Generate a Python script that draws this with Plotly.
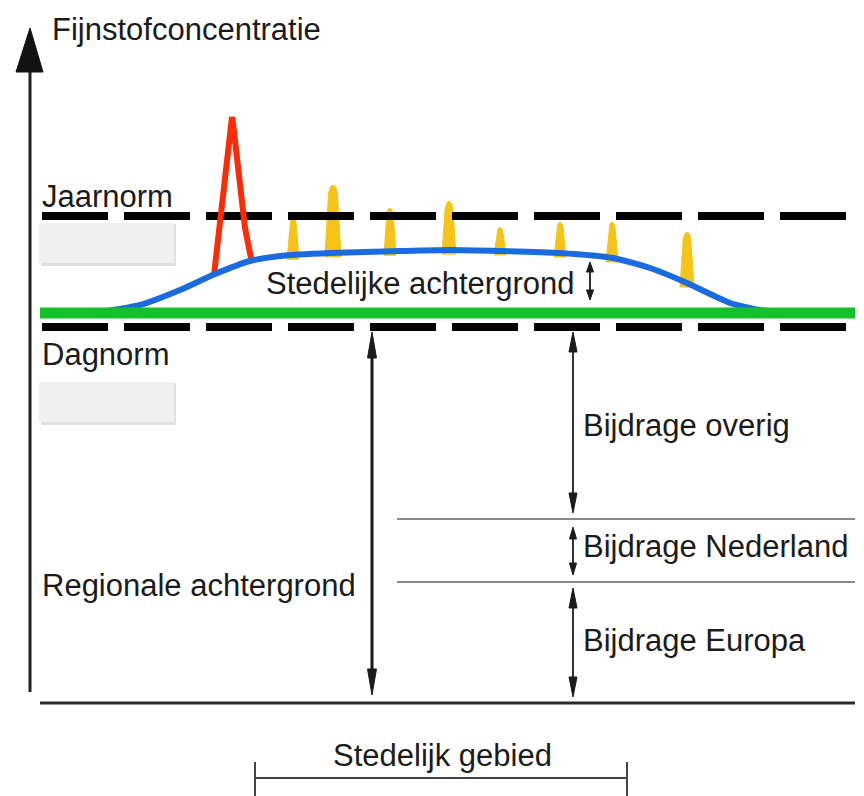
import numpy as np
import plotly.graph_objects as go

# ---------------- schematic values (concentration units, 0 = ground level) ----------------
ground_level = 0
regional_level = 390        # regionale achtergrond (green)
jaarnorm_level = 487        # dashed line "Jaarnorm"
dagnorm_level = 376         # dashed line "Dagnorm"
ground_span = [40, 855]
norm_span = [42, 852]

# urban background (blue)
urban_x = [95, 140, 180, 215, 250, 280, 330, 400, 450, 500, 560, 613, 650, 687, 710, 730, 760, 790]
urban_c = [390, 398, 413, 429, 442, 447, 450, 452, 453, 452, 450, 445, 435, 420, 409, 400, 393, 390]

# red peak (exceeding day norm)
red_x = [214, 219, 224, 228, 231, 232, 233, 236, 240, 245, 251]
red_c = [428, 470, 515, 555, 580, 586, 580, 550, 510, 475, 445]

# yellow local peaks
peak_x = [293, 333, 390, 449, 500, 560, 612, 687]
peak_top = [486, 518, 495, 502, 476, 481, 481, 471]
peak_halfwidth = [6, 8, 6, 7, 6, 6, 6, 7]

# contribution boundaries
contrib_levels = [184, 121]
contrib_span = [397, 855]

# arrows: x, from, to
arrow_x = [372, 573, 573, 573, 590]
arrow_from = [371, 371, 176, 115, 441]
arrow_to = [8, 190, 128, 6, 403]
arrow_head_len = [26, 20, 12, 20, 10]
arrow_head_half = [4.5, 4, 3.5, 4, 3.5]
arrow_width = [3, 1.8, 1.8, 1.8, 1.8]

# labels
label_text = ["Fijnstofconcentratie", "Jaarnorm", "Dagnorm", "Stedelijke achtergrond",
              "Regionale achtergrond", "Bijdrage overig", "Bijdrage Nederland",
              "Bijdrage Europa", "Stedelijk gebied"]
label_x = [50, 40, 40, 264, 40, 581, 581, 581, 442]
label_c = [674, 507, 349, 420, 118, 278, 157, 63, -52]
label_anchor = ["left", "left", "left", "left", "left", "left", "left", "left", "center"]

# redaction boxes (x0, x1, c_top, c_bottom)
box_x0 = [39, 39]
box_x1 = [174, 174]
box_top = [480, 321]
box_bottom = [440, 281]

# urban area bracket
bracket_span = [255, 627]
bracket_level = -75
bracket_tick = [-59, -93]

# axis
axis_x = 30
axis_bottom = 11
axis_tip = 675

FONT = "Liberation Sans, Arial, sans-serif"
INK = "#1b1b1b"

fig = go.Figure()

# yellow peaks
urban_interp = lambda xx: float(np.interp(xx, urban_x, urban_c))
for px, top, hw in zip(peak_x, peak_top, peak_halfwidth):
    base = urban_interp(px) - 4
    xs = [px - hw, px - hw * 0.55, px - hw * 0.35, px, px + hw * 0.35, px + hw * 0.55, px + hw, px - hw]
    ys = [base, top - 8, top - 2, top, top - 2, top - 8, base, base]
    fig.add_trace(go.Scatter(x=xs, y=ys, mode="lines", fill="toself", fillcolor="#F6C416",
                             line=dict(color="#F6C416", width=1), hoverinfo="skip", showlegend=False))

# dashed norm lines
for lvl in [jaarnorm_level, dagnorm_level]:
    fig.add_trace(go.Scatter(x=norm_span, y=[lvl, lvl], mode="lines",
                             line=dict(color="#000000", width=8, dash="66px,16px"),
                             hoverinfo="skip", showlegend=False))

# red peak
fig.add_trace(go.Scatter(x=red_x, y=red_c, mode="lines", line=dict(color="#FF2A06", width=6),
                         hoverinfo="skip", showlegend=False))
# blue urban background
fig.add_trace(go.Scatter(x=urban_x, y=urban_c, mode="lines", line=dict(color="#1A6BE0", width=6, shape="spline", smoothing=0.6),
                         hoverinfo="skip", showlegend=False))
# green regional background
fig.add_trace(go.Scatter(x=ground_span, y=[regional_level, regional_level], mode="lines",
                         line=dict(color="#16C02A", width=11), hoverinfo="skip", showlegend=False))

shapes = []
# ground line
shapes.append(dict(type="line", x0=ground_span[0], x1=ground_span[1], y0=ground_level, y1=ground_level,
                   line=dict(color="#2a2a2a", width=3)))
# contribution lines
for lvl in contrib_levels:
    shapes.append(dict(type="line", x0=contrib_span[0], x1=contrib_span[1], y0=lvl, y1=lvl,
                       line=dict(color="#8a8a8a", width=2)))
# y axis with arrow
shapes.append(dict(type="line", x0=axis_x, x1=axis_x, y0=axis_bottom, y1=axis_tip - 40,
                   line=dict(color="#222222", width=3)))
shapes.append(dict(type="path",
                   path=f"M {axis_x} {axis_tip} L {axis_x - 14} {axis_tip - 44} L {axis_x + 13} {axis_tip - 44} Z",
                   fillcolor="#111111", line=dict(color="#111111", width=1)))

# double arrows
for ax_, a0, a1, hl, hh, lw in zip(arrow_x, arrow_from, arrow_to, arrow_head_len, arrow_head_half, arrow_width):
    top, bot = max(a0, a1), min(a0, a1)
    shapes.append(dict(type="line", x0=ax_, x1=ax_, y0=top - hl * 0.5, y1=bot + hl * 0.5,
                       line=dict(color=INK, width=lw)))
    shapes.append(dict(type="path", path=f"M {ax_} {top} L {ax_ - hh} {top - hl} L {ax_ + hh} {top - hl} Z",
                       fillcolor=INK, line=dict(color=INK, width=1)))
    shapes.append(dict(type="path", path=f"M {ax_} {bot} L {ax_ - hh} {bot + hl} L {ax_ + hh} {bot + hl} Z",
                       fillcolor=INK, line=dict(color=INK, width=1)))

# bracket
shapes.append(dict(type="line", x0=bracket_span[0], x1=bracket_span[1], y0=bracket_level, y1=bracket_level,
                   line=dict(color="#444444", width=2)))
for bx in bracket_span:
    shapes.append(dict(type="line", x0=bx, x1=bx, y0=bracket_tick[0], y1=bracket_tick[1],
                       line=dict(color="#444444", width=2)))

# redaction boxes with soft shadow
for x0, x1, t, b in zip(box_x0, box_x1, box_top, box_bottom):
    shapes.append(dict(type="rect", x0=x0 + 2, x1=x1 + 2, y0=b - 3, y1=t - 1,
                       fillcolor="rgba(0,0,0,0.12)", line=dict(width=0), layer="above"))
    shapes.append(dict(type="rect", x0=x0, x1=x1, y0=b, y1=t,
                       fillcolor="#F0F0F0", line=dict(width=0), layer="above"))

annotations = []
for txt, lx, lc, anc in zip(label_text, label_x, label_c, label_anchor):
    annotations.append(dict(x=lx, y=lc, text=txt, showarrow=False, xanchor=anc, yanchor="middle",
                            font=dict(family=FONT, size=31, color=INK)))

fig.update_layout(
    width=864, height=796,
    margin=dict(l=0, r=0, t=0, b=0),
    paper_bgcolor="white", plot_bgcolor="white",
    xaxis=dict(range=[0, 864], visible=False, fixedrange=True),
    yaxis=dict(range=[-93, 703], visible=False, fixedrange=True),
    shapes=shapes, annotations=annotations, showlegend=False,
)

fig.write_html("out.html", config={"displayModeBar": False},
               post_script="document.body.style.margin='0';document.body.style.overflow='hidden';")
